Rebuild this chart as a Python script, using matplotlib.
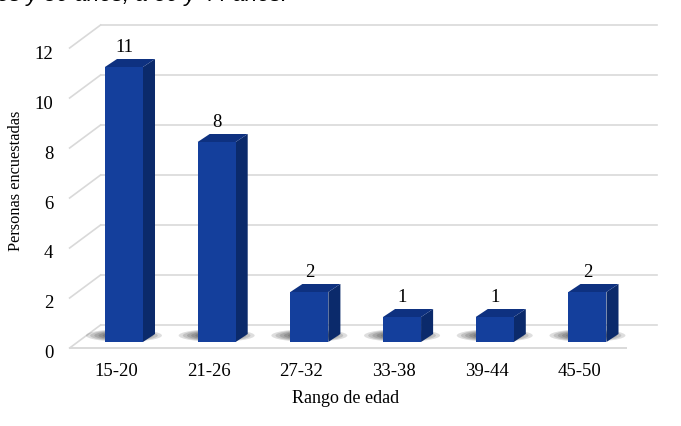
import numpy as np
import matplotlib.pyplot as plt
import matplotlib.transforms as mtransforms
from matplotlib.patches import Rectangle, Polygon, Ellipse

plt.rcParams['font.family'] = ['Liberation Serif', 'DejaVu Serif']

categorias = ['15-20', '21-26', '27-32', '33-38', '39-44', '45-50']
personas = [11, 8, 2, 1, 1, 2]
yticks = [0, 2, 4, 6, 8, 10, 12]

# 3D look (data units)
w = 0.41            # bar width
dxb, dyb = 0.13, 0.32    # bar depth
bx, by = 0.248, 0.68     # back wall offset
fx, fy = -0.086, -0.24   # front floor offset

c_front = '#143f9c'
c_side = '#0b2a6b'
c_top = '#0e3180'
c_grid = '#d9d9d9'

fig = plt.figure(figsize=(6.81, 4.26), dpi=100)
ax = fig.add_axes([77.6/681, 84/426, 556.2/681, 300/426])
ax.set_xlim(-0.5, len(categorias) - 0.5)
ax.set_ylim(0, 12)
ax.patch.set_visible(False)
for s in ax.spines.values():
    s.set_visible(False)

x0, x1 = -0.5, len(categorias) - 0.5
for v in yticks:
    ax.plot([x0 + bx, x1 + bx], [v + by, v + by], color=c_grid, lw=1.2, clip_on=False, zorder=1)
    ax.plot([x0 + fx, x0 + bx], [v + fy, v + by], color=c_grid, lw=1.2, clip_on=False, zorder=1)
ax.plot([x0 + fx, x1 + fx], [fy, fy], color=c_grid, lw=1.4, clip_on=False, zorder=1)

for i, v in enumerate(personas):
    # soft shadow on the floor
    for k in range(7):
        sc = 1 - k * 0.11
        ax.add_patch(Ellipse((i, 0.26), 0.82 * sc, 0.5 * sc, color='black',
                             alpha=0.13, lw=0, clip_on=False, zorder=2))
    left, right = i - w / 2, i + w / 2
    ax.add_patch(Polygon([(right, 0), (right + dxb, dyb), (right + dxb, v + dyb), (right, v)],
                         closed=True, fc=c_side, ec='none', clip_on=False, zorder=3))
    ax.add_patch(Polygon([(left, v), (right, v), (right + dxb, v + dyb), (left + dxb, v + dyb)],
                         closed=True, fc=c_top, ec='none', clip_on=False, zorder=3))
    ax.add_patch(Rectangle((left, 0), w, v, fc=c_front, ec='none', clip_on=False, zorder=4))
    ax.annotate(str(v), (i, v + dyb), xytext=(0, 2.5), textcoords='offset points',
                ha='center', va='bottom', fontsize=13.5, color='black')

ax.set_xticks(range(len(categorias)))
ax.set_xticklabels(categorias, fontsize=13.5)
ax.set_yticks(yticks)
ax.set_yticklabels([str(t) for t in yticks], fontsize=13.5)
ax.tick_params(axis='x', length=0, pad=15)
ax.tick_params(axis='y', length=0, pad=17.5)

off_x = mtransforms.ScaledTranslation(-8/100, 0, fig.dpi_scale_trans)
for lab in ax.get_xticklabels():
    lab.set_transform(lab.get_transform() + off_x)
off_y = mtransforms.ScaledTranslation(0, -10/100, fig.dpi_scale_trans)
for lab in ax.get_yticklabels():
    lab.set_transform(lab.get_transform() + off_y)

ax.set_xlabel('Rango de edad', fontsize=13)
ax.xaxis.set_label_coords((346 - 77.6)/556.2, (342 - 390)/300)
ax.set_ylabel('Personas encuestadas', fontsize=11.8)
ax.yaxis.set_label_coords((24 - 77.6)/556.2, (342 - 181)/300)

# cut-off line of body text above the chart
fig.text(-0.004, 1 - 1.5/426, 'es y 50 años, a 30 y 44 años.', fontsize=16,
         family=['Liberation Sans', 'DejaVu Sans'], style='italic', va='baseline', ha='left')

fig.savefig('out.png', dpi=100)
